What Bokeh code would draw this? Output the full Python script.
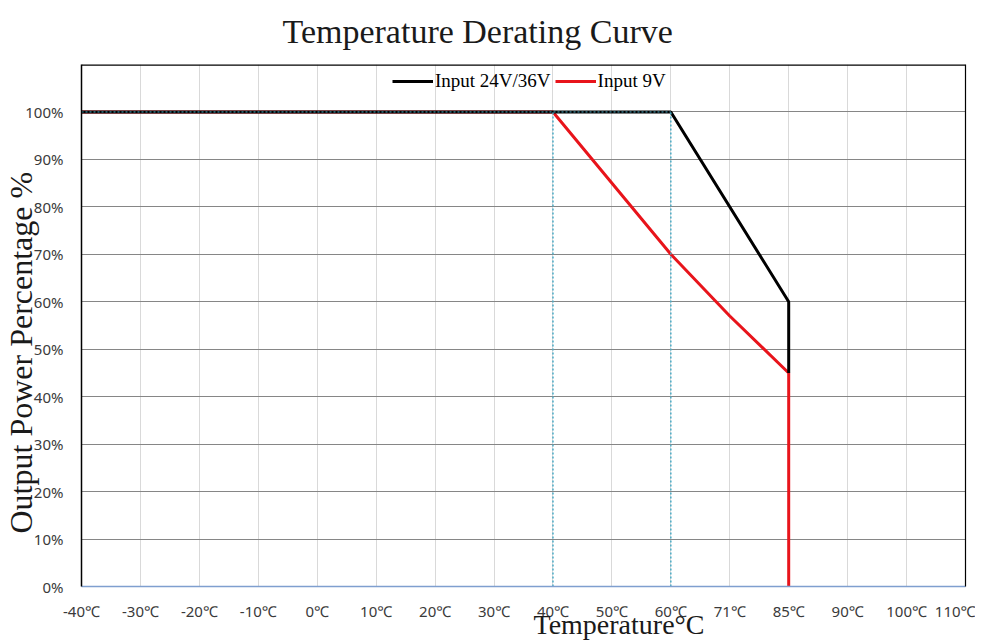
from bokeh.plotting import figure
from bokeh.models import (FixedTicker, Legend, LegendItem, LinearAxis, Range1d, Title, Span)
from bokeh.embed import file_html
from bokeh.resources import INLINE

# ---- data ----
temp_labels = ["-40℃", "-30℃", "-20℃", "-10℃", "0℃", "10℃", "20℃", "30℃",
               "40℃", "50℃", "60℃", "71℃", "85℃", "90℃", "100℃", "110℃"]
pct_ticks = [0, 10, 20, 30, 40, 50, 60, 70, 80, 90, 100]
pct_max = 110

black_temps = ["-40℃", "60℃", "85℃", "85℃"]
black_vals = [100, 100, 60, 45]

red_temps = ["-40℃", "40℃", "60℃", "71℃", "85℃", "85℃"]
red_vals = [100, 100, 70, 57, 45, 0]

knee_temps = ["40℃", "60℃"]
knee_low, knee_high = 0, 100

title_text = "Temperature Derating Curve"
xlabel_text = "Temperature°C"
ylabel_text = "Output Power Percentage %"

# ---- geometry ----
W, H = 975, 643
idx = {t: i for i, t in enumerate(temp_labels)}

p = figure(width=W, height=H, output_backend="svg", toolbar_location=None,
           x_range=Range1d(0, len(temp_labels) - 1), y_range=Range1d(0, pct_max),
           min_border_left=81, min_border_right=W - 965, min_border_top=62,
           min_border_bottom=H - 586, outline_line_color=None)
p.background_fill_color = "white"
p.border_fill_color = "white"

SANS = "Noto Sans"
SERIF = "Liberation Serif"

# axes
p.xaxis.ticker = FixedTicker(ticks=list(range(len(temp_labels))))
p.xaxis.major_label_overrides = {i: t for i, t in enumerate(temp_labels)}
p.yaxis.ticker = FixedTicker(ticks=pct_ticks)
p.yaxis.major_label_overrides = {v: f"{v}%" for v in pct_ticks}
for ax in (p.xaxis[0], p.yaxis[0]):
    ax.major_tick_line_color = None
    ax.minor_tick_line_color = None
    ax.major_label_text_font = SANS
    ax.major_label_text_font_size = "15px"
    ax.major_label_text_color = "#3a3a3a"
p.xaxis.major_label_standoff = 8
p.yaxis.major_label_standoff = 12
p.xaxis.axis_line_color = "#7f9fcf"
p.xaxis.axis_line_width = 1.5
p.yaxis.axis_line_color = "black"
p.yaxis.axis_line_width = 1.5

right_ax = LinearAxis(ticker=FixedTicker(ticks=[]), major_label_text_font_size="0px",
                      major_tick_line_color=None, minor_tick_line_color=None,
                      axis_line_color="black", axis_line_width=1.2)
p.add_layout(right_ax, "right")
p.add_layout(Span(location=pct_max, dimension="width", line_color="black", line_width=2.4))

# grids
p.xgrid.ticker = FixedTicker(ticks=list(range(len(temp_labels))))
p.xgrid.grid_line_color = "#d9d9d9"
p.xgrid.grid_line_width = 1
p.ygrid.ticker = FixedTicker(ticks=pct_ticks)
p.ygrid.grid_line_color = "#868686"
p.ygrid.grid_line_width = 1

# series
rx = [idx[t] for t in red_temps]
bx = [idx[t] for t in black_temps]
r_red = p.line(rx, red_vals, line_color="#e8141b", line_width=3)
r_black = p.line(bx, black_vals, line_color="black", line_width=3)

# dotted reference lines at the knees
kx = [idx[t] for t in knee_temps]
p.segment(x0=kx, y0=[knee_low] * len(kx), x1=kx, y1=[knee_high] * len(kx),
          line_color="#4bacc6", line_width=1.5, line_dash="2 2")
p.segment(x0=[bx[0]], y0=[black_vals[0]], x1=[bx[1]], y1=[black_vals[1]],
          line_color="#4bacc6", line_width=1, line_dash="2 2")

legend = Legend(items=[LegendItem(label="Input 24V/36V", renderers=[r_black]),
                       LegendItem(label="Input 9V", renderers=[r_red])],
                orientation="horizontal", location=(311, 494),
                background_fill_alpha=0, border_line_color=None,
                padding=0, margin=0, spacing=4, glyph_width=41, glyph_height=20,
                label_standoff=2, label_text_font=SERIF,
                label_text_font_size="19px", label_text_color="black")
p.add_layout(legend, "center")

# titles
p.title.text = title_text
p.title.align = "left"
p.title.offset = 201
p.title.vertical_align = "top"
p.title.standoff = 25
p.title.text_font = SERIF
p.title.text_font_size = "34px"
p.title.text_font_style = "normal"
p.title.text_color = "#1a1a1a"

p.add_layout(Title(text=xlabel_text, align="left", offset=452, vertical_align="middle",
                   standoff=-31, text_font=SERIF, text_font_size="28px",
                   text_font_style="normal", text_color="#1a1a1a",
                   text_line_height=0.8), "below")
p.add_layout(Title(text=ylabel_text, align="left", offset=53, vertical_align="bottom",
                   standoff=-32, text_font=SERIF, text_font_size="32px",
                   text_font_style="normal", text_color="#1a1a1a",
                   text_line_height=0.8), "left")

open("out.html", "w").write(file_html(p, INLINE))
